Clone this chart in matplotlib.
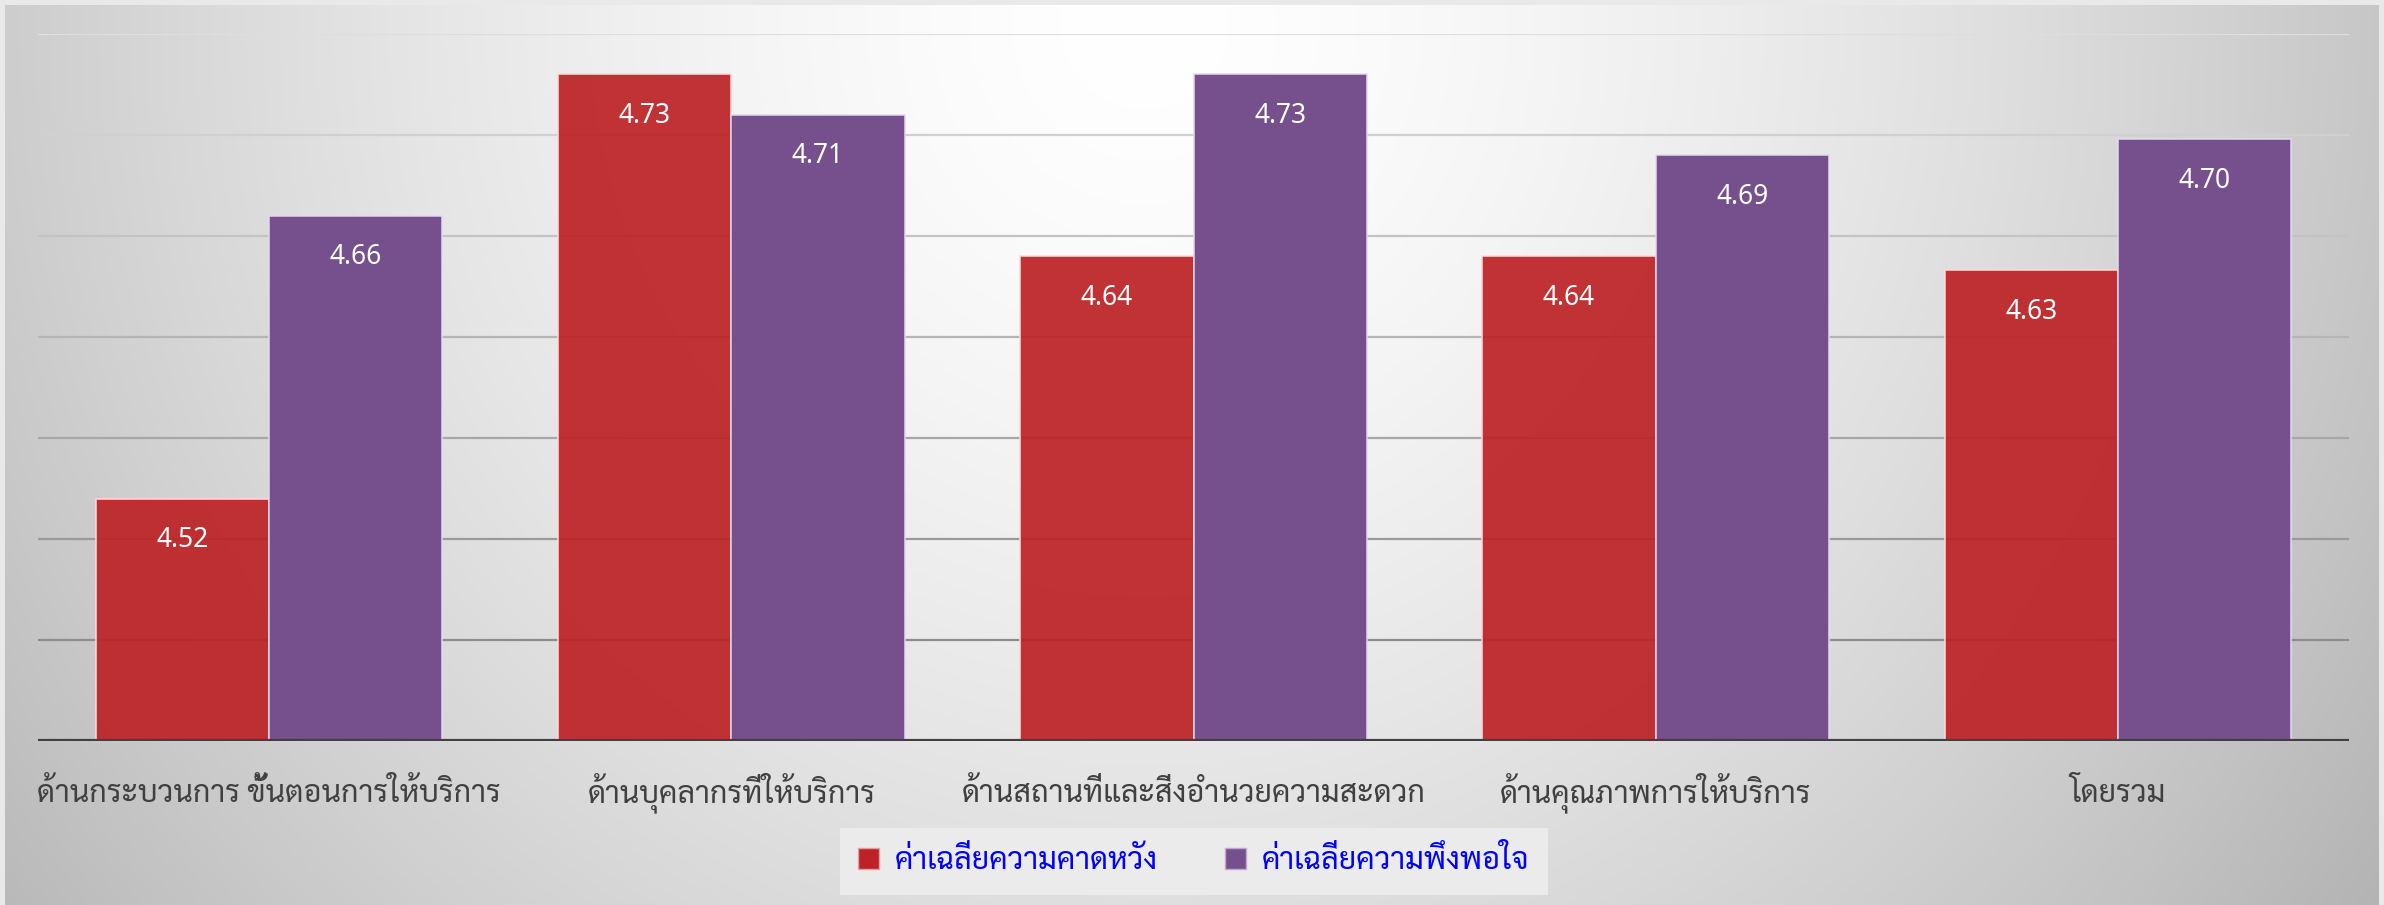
import numpy as np
import matplotlib
matplotlib.use('Agg')
import matplotlib.pyplot as plt
from matplotlib import font_manager as fm
from matplotlib.patches import Patch

# ---------------- data ----------------
categories = ['ด้านกระบวนการ ขั้นตอนการให้บริการ', 'ด้านบุคลากรที่ให้บริการ',
              'ด้านสถานที่และสิ่งอำนวยความสะดวก', 'ด้านคุณภาพการให้บริการ', 'โดยรวม']
expectation = [4.52, 4.73, 4.64, 4.64, 4.633]
satisfaction = [4.66, 4.71, 4.73, 4.69, 4.698]
series_names = ['ค่าเฉลี่ยความคาดหวัง', 'ค่าเฉลี่ยความพึงพอใจ']
y_min, y_max, y_step = 4.40, 4.75, 0.05

# ---------------- find a Thai font ----------------
thai_fonts = []
try:
    from fontTools.ttLib import TTFont
    seen = set()
    for f in fm.fontManager.ttflist:
        if f.name in seen:
            continue
        try:
            tt = TTFont(f.fname, fontNumber=0, lazy=True)
            cm = tt.getBestCmap()
            if cm and 0x0E01 in cm and 0x0E49 in cm and 0x0E33 in cm:
                thai_fonts.append(f.name)
                seen.add(f.name)
        except Exception:
            pass
except Exception:
    pass
pref = ['Sarabun', 'TH Sarabun New', 'Noto Sans Thai', 'Noto Sans Thai UI', 'Loma',
        'Garuda', 'Tlwg Typo', 'Waree', 'Umpush', 'Kinnari', 'Norasi']
thai = None
for p in pref:
    if p in thai_fonts:
        thai = p
        break
if thai is None and thai_fonts:
    thai = thai_fonts[0]
fam = ([thai] if thai else []) + ['DejaVu Sans']
plt.rcParams['font.family'] = fam

W, H = 2384, 905
fig = plt.figure(figsize=(W / 100, H / 100), dpi=100, facecolor='#e9e9e9')

# background gradient panel
bg = fig.add_axes([5 / W, 0, (2379 - 5) / W, 900 / H])
bg.set_axis_off()
yy, xx = np.mgrid[0:1:300j, 0:1:800j]
d = np.sqrt(((xx - 0.48) / 0.55) ** 2 + ((yy - 0.02) / 1.5) ** 2)
g = 1.0 - 0.24 * np.clip(d, 0, 1.2) ** 1.5
img = np.dstack([g, g, g])
bg.imshow(img, aspect='auto', extent=[0, 1, 1, 0], interpolation='bicubic')
bg.set_xlim(0, 1); bg.set_ylim(1, 0)

# main axes
left, right = 38 / W, 2349 / W
bottom, top = 1 - 741 / H, 1 - 34 / H
ax = fig.add_axes([left, bottom, right - left, top - bottom])
ax.patch.set_alpha(0)
x = np.arange(len(categories))
bw = 0.375
ax.set_xlim(-0.5, len(categories) - 0.5)
ax.set_ylim(y_min, y_max)

ticks = np.arange(y_min + y_step, y_max + 1e-9, y_step)
n = len(ticks)
for i, t in enumerate(ticks):
    frac = i / (n - 1)
    c = 0.55 + 0.32 * frac
    ax.axhline(t, color=(c, c, c), lw=1.6, zorder=1)

b1 = ax.bar(x - bw / 2, [v - y_min for v in expectation], bw, bottom=y_min,
            color='#bd2326', alpha=0.93, edgecolor=(1, 0.85, 0.85, 0.8), linewidth=1.2, zorder=2)
b2 = ax.bar(x + bw / 2, [v - y_min for v in satisfaction], bw, bottom=y_min,
            color='#76508c', edgecolor=(0.9, 0.85, 0.95, 0.9), linewidth=1.2, zorder=2)

for bars, vals in ((b1, expectation), (b2, satisfaction)):
    for r, v in zip(bars, vals):
        ax.annotate(f'{v:.2f}', (r.get_x() + r.get_width() / 2, v), xytext=(0, -30),
                    textcoords='offset points', ha='center', va='center',
                    color='white', fontsize=19, family=['Noto Sans', 'DejaVu Sans'], zorder=3)

ax.axhline(y_min, color='#404040', lw=3, zorder=4)
for s in ax.spines.values():
    s.set_visible(False)
ax.set_yticks([])
ax.set_xticks(x)
ax.set_xticklabels(categories, fontsize=22, color='#404040')
for lbl in ax.get_xticklabels():
    lbl.set_va('baseline')
ax.tick_params(axis='x', length=0, pad=44)

handles = [Patch(facecolor='#bd2326', edgecolor='#e0a0a0'),
           Patch(facecolor='#76508c', edgecolor='#c0a8d0')]
leg = fig.legend(handles, series_names, loc='center', bbox_to_anchor=(0.5007, 0.0481),
                 ncol=2, frameon=True, fancybox=False, fontsize=22, handlelength=0.7,
                 handleheight=0.7, handletextpad=0.5, columnspacing=2.2,
                 borderpad=0.6, labelcolor='#0000ff')
leg.get_frame().set_facecolor('#ebebeb')
leg.get_frame().set_edgecolor('none')
leg.get_frame().set_alpha(1)

fig.savefig('out.png', dpi=100, facecolor=fig.get_facecolor())
